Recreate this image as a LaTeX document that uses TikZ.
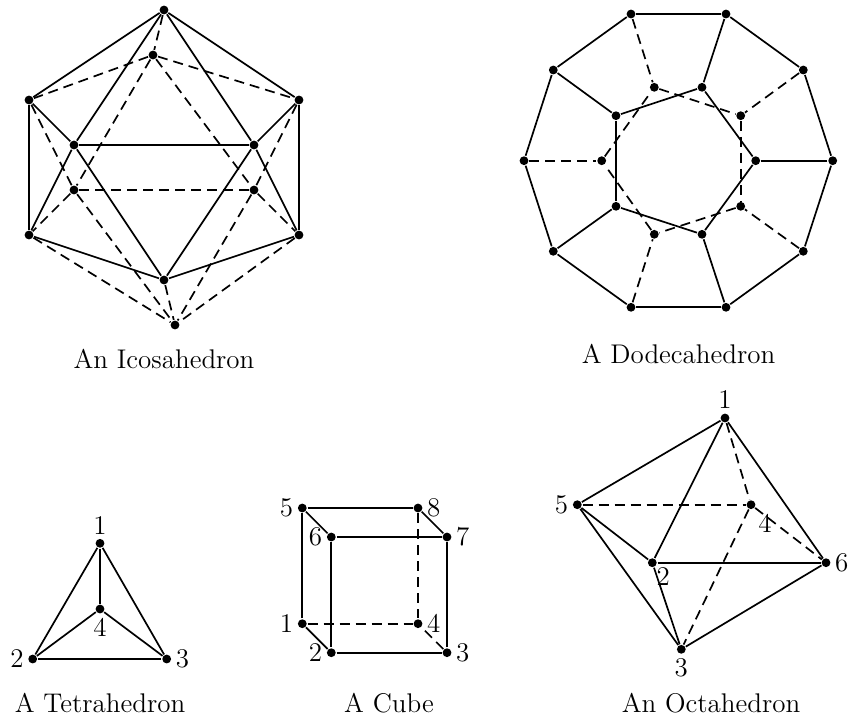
\documentclass[tikz,border=0pt]{standalone}
\usepackage{amsmath,amssymb}
\usepackage{xcolor}
\usepackage{tikz}

\begin{document}
\begin{tikzpicture}[
    x=0.5pt, y=-0.5pt, line width=0.85pt,
    vtx/.style={circle, fill=black, inner sep=0pt, minimum size=4.4pt},
    back/.style={dash pattern=on 5pt off 3pt},
    caption/.style={font=\fontsize{13.5}{16}\selectfont, inner sep=0pt, anchor=base},
    every label/.style={font=\fontsize{13.5}{16}\selectfont, inner sep=1.5pt},
    label distance=0pt
]
\useasboundingbox (0,0) rectangle (850,719);

\foreach \name/\x/\y in {T/164/10, B/153/55, UL/29/100, UR/299/100, FL/74/145, FR/254/145,
    BL/74/190, BR/254/190, LL/29/235, LR/299/235, F/164/280, G/175/325}
    \node[vtx] (\name) at (\x,\y) {};
\foreach \a/\b in {T/UL, T/UR, T/FL, T/FR, UL/FL, UR/FR, FL/FR, UL/LL, UR/LR,
    FL/LL, FR/LR, FL/F, FR/F, LL/F, LR/F}
    \draw (\a) -- (\b);
\foreach \a/\b in {T/B, B/UL, B/UR, B/BL, B/BR, UL/BL, UR/BR, BL/BR, BL/LL, BR/LR,
    LL/G, LR/G, BL/G, BR/G, F/G}
    \draw[back] (\a) -- (\b);
\node[caption] (icocap) at (164,368) {An Icosahedron};

\foreach \name/\x/\y in {o1/631/14, o2/726/14, o3/803.3/70, o4/832.7/160.7, o5/803.3/251.3,
    o6/726/307.3, o7/631/307.3, o8/553.3/251.3, o9/524/160.7, o10/553.3/70,
    f1/702/87.3, f2/755.7/160.7, f3/702/234.3, f4/616/206.3, f5/616/115.7,
    k1/654.3/87.3, k2/740.7/115.7, k3/740.7/206.3, k4/654.3/234.3, k5/601.7/160.7}
    \node[vtx] (\name) at (\x,\y) {};
\foreach \a/\b in {o1/o2, o2/o3, o3/o4, o4/o5, o5/o6, o6/o7, o7/o8, o8/o9, o9/o10, o10/o1,
    f1/f2, f2/f3, f3/f4, f4/f5, f5/f1, o2/f1, o4/f2, o6/f3, o8/f4, o10/f5}
    \draw (\a) -- (\b);
\foreach \a/\b in {k1/k2, k2/k3, k3/k4, k4/k5, k5/k1, o1/k1, o3/k2, o5/k3, o7/k4, o9/k5}
    \draw[back] (\a) -- (\b);
\node[caption] (dodcap) at (678.5,363) {A Dodecahedron};

\node[vtx, label=above:1] (t1) at (100,543.3) {};
\node[vtx, label=left:2] (t2) at (32.7,659) {};
\node[vtx, label=right:3] (t3) at (166.7,659) {};
\node[vtx, label=below:4] (t4) at (100,609) {};
\foreach \a/\b in {t1/t2, t1/t3, t1/t4, t2/t3, t2/t4, t3/t4}
    \draw (\a) -- (\b);
\node[caption] (tetcap) at (100,712) {A Tetrahedron};

\node[vtx, label=left:1] (c1) at (302.3,623.7) {};
\node[vtx, label=left:2] (c2) at (331.3,652.7) {};
\node[vtx, label=right:3] (c3) at (447,652.7) {};
\node[vtx, label=right:4] (c4) at (418,623.7) {};
\node[vtx, label=left:5] (c5) at (302.3,508) {};
\node[vtx, label=left:6] (c6) at (331.3,537) {};
\node[vtx, label=right:7] (c7) at (447,537) {};
\node[vtx, label=right:8] (c8) at (418,508) {};
\foreach \a/\b in {c1/c2, c2/c3, c3/c7, c7/c6, c6/c2, c1/c5, c5/c6, c5/c8, c8/c7}
    \draw (\a) -- (\b);
\foreach \a/\b in {c1/c4, c3/c4, c8/c4}
    \draw[back] (\a) -- (\b);
\node[caption] (cubcap) at (389,712) {A Cube};

\node[vtx, label=above:1] (h1) at (725,418) {};
\node[vtx, label={[inner sep=0pt]-50:2}] (h2) at (652.3,562.7) {};
\node[vtx, label=below:3] (h3) at (681.3,649.3) {};
\node[vtx, label={[inner sep=2pt]-60:4}] (h4) at (751,504.7) {};
\node[vtx, label=left:5] (h5) at (577.3,504.7) {};
\node[vtx, label=right:6] (h6) at (826,562.7) {};
\foreach \a/\b in {h1/h5, h1/h2, h1/h6, h5/h2, h5/h3, h2/h6, h2/h3, h3/h6}
    \draw (\a) -- (\b);
\foreach \a/\b in {h5/h4, h1/h4, h4/h6, h4/h3}
    \draw[back] (\a) -- (\b);
\node[caption] (octcap) at (711,712) {An Octahedron};
\end{tikzpicture}
\end{document}
